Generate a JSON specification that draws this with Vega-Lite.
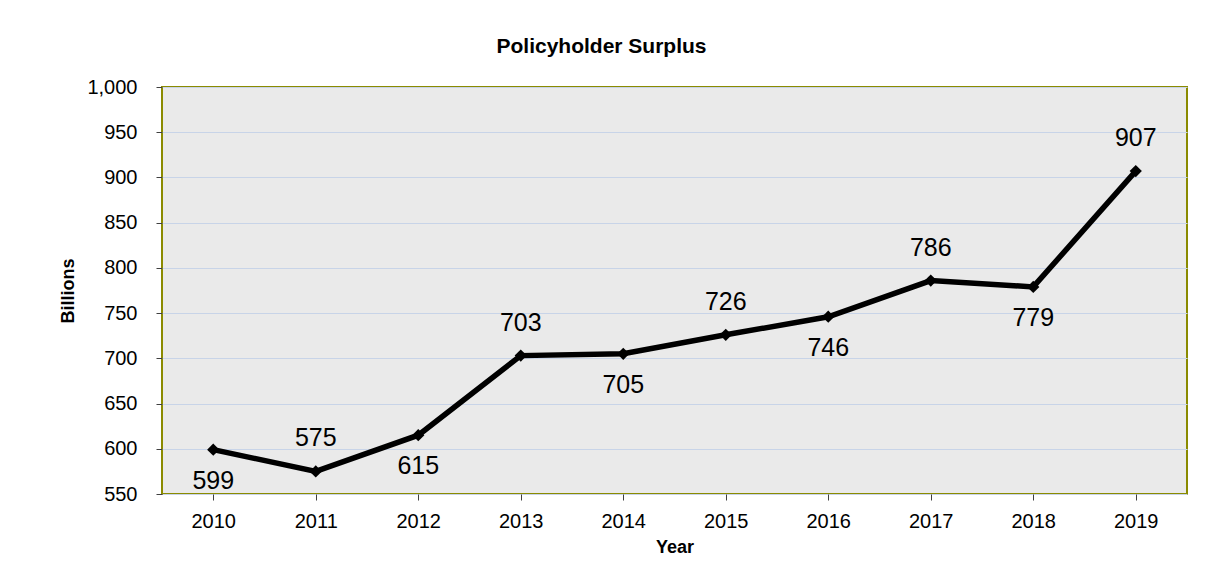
{
  "$schema": "https://vega.github.io/schema/vega-lite/v6.json",
  "width": 1025,
  "height": 407,
  "autosize": {"type": "none"},
  "padding": {"left": 162, "top": 87, "right": 19, "bottom": 81},
  "background": "white",
  "title": {
    "text": "Policyholder Surplus",
    "font": "Liberation Sans",
    "fontSize": 21,
    "fontWeight": "bold",
    "color": "black",
    "anchor": "middle",
    "frame": "group",
    "dx": -73,
    "offset": 20
  },
  "config": {
    "view": {"fill": "#EAEAEA", "stroke": "#8B8B00", "strokeWidth": 2},
    "font": "Liberation Sans"
  },
  "data": {
    "values": [
      {"year": 2010, "surplus": 599},
      {"year": 2011, "surplus": 575},
      {"year": 2012, "surplus": 615},
      {"year": 2013, "surplus": 703},
      {"year": 2014, "surplus": 705},
      {"year": 2015, "surplus": 726},
      {"year": 2016, "surplus": 746},
      {"year": 2017, "surplus": 786},
      {"year": 2018, "surplus": 779},
      {"year": 2019, "surplus": 907}
    ]
  },
  "encoding": {
    "x": {
      "field": "year",
      "type": "ordinal",
      "scale": {"paddingInner": 0, "paddingOuter": 0},
      "axis": {
        "title": "Year",
        "titleFont": "Liberation Sans",
        "titleFontSize": 18,
        "titleFontWeight": "bold",
        "titleColor": "black",
        "titlePadding": 7,
        "labelFont": "Liberation Sans",
        "labelFontSize": 20,
        "labelColor": "black",
        "labelAngle": 0,
        "labelPadding": 11,
        "bandPosition": 0,
        "tickSize": 6,
        "tickColor": "#404040",
        "domain": false,
        "grid": false
      }
    },
    "y": {
      "field": "surplus",
      "type": "quantitative",
      "scale": {"domain": [550, 1000], "nice": false, "zero": false},
      "axis": {
        "title": "Billions",
        "titleFont": "Liberation Sans",
        "titleFontSize": 18,
        "titleFontWeight": "bold",
        "titleColor": "black",
        "titlePadding": 9,
        "labelFont": "Liberation Sans",
        "labelFontSize": 20,
        "labelColor": "black",
        "labelPadding": 19,
        "format": ",d",
        "values": [550, 600, 650, 700, 750, 800, 850, 900, 950, 1000],
        "tickSize": 6,
        "tickColor": "#404040",
        "domain": false,
        "grid": true,
        "gridColor": "#C8D4E8",
        "gridWidth": 1
      }
    }
  },
  "layer": [
    {
      "mark": {"type": "line", "color": "black", "strokeWidth": 5.5}
    },
    {
      "mark": {"type": "point", "shape": "diamond", "filled": true, "color": "black", "size": 150, "opacity": 1}
    },
    {
      "transform": [{"filter": "datum.year % 2 == 1"}],
      "mark": {"type": "text", "dy": -33, "fontSize": 25, "font": "Liberation Sans", "color": "black"},
      "encoding": {"text": {"field": "surplus", "type": "quantitative"}}
    },
    {
      "transform": [{"filter": "datum.year % 2 == 0"}],
      "mark": {"type": "text", "dy": 31, "fontSize": 25, "font": "Liberation Sans", "color": "black"},
      "encoding": {"text": {"field": "surplus", "type": "quantitative"}}
    }
  ]
}
